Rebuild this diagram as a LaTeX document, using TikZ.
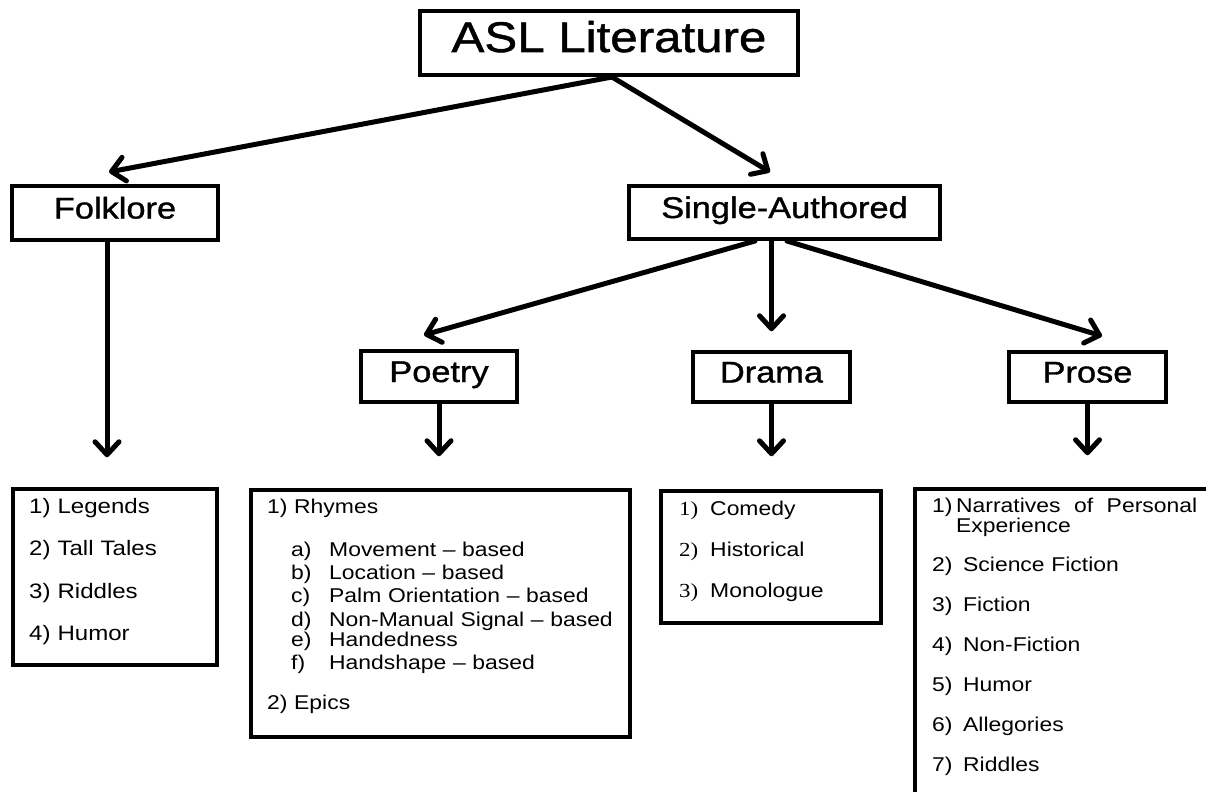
\documentclass[tikz,border=0pt]{standalone}
\usepackage{fontspec}
\setmainfont{Liberation Sans}[FakeStretch=1.15]
\newfontfamily\headfont{Liberation Sans}[FakeStretch=1.15, FakeBold=1.2]
\newfontfamily\numfont{Liberation Serif}[FakeStretch=1.15]
\usetikzlibrary{arrows.meta,positioning}

\tikzset{
  catbox/.style={draw, line width=4bp, inner sep=0pt,
    font=\headfont\fontsize{30}{36}\selectfont, text height=21bp, text depth=10bp},
  listbox/.style={draw, line width=4bp, inner sep=0pt},
  items/.style={anchor=north west, inner sep=0pt, align=left, text width=#1},
  link/.style={line width=5bp, line cap=round,
    -{Straight Barb[length=13bp,width=24bp,round]}},
}
\newcommand{\firstline}{\rule{0pt}{18bp}}

\begin{document}
\begin{tikzpicture}[x=1bp, y=-1bp]
  \useasboundingbox (0,0) rectangle (1206,792);
  \clip (0,0) rectangle (1206,792);

  % top and second level
  \node[catbox, minimum width=378bp, minimum height=64bp,
        font=\headfont\fontsize{43}{50}\selectfont, text height=30bp, text depth=12bp]
        (asl) at (609,43) {ASL Literature};
  \node[catbox, minimum width=206bp, minimum height=54bp] (folk) at (115,213) {Folklore};
  \node[catbox, minimum width=311bp, minimum height=53bp] (single) at (784.5,212.5) {Single-Authored};

  % genres
  \node[catbox, minimum width=156bp, minimum height=51bp] (poet) at (439,376.5) {Poetry};
  \node[catbox, minimum width=157bp, minimum height=50bp] (drama) at (771.5,377) {Drama};
  \node[catbox, minimum width=157bp, minimum height=50bp] (prose) at (1087.5,377) {Prose};

  % list frames
  \node[listbox, minimum width=204bp, minimum height=176bp] (folklist) at (115,577) {};
  \node[listbox, minimum width=379bp, minimum height=247bp] (poetlist) at (440.5,613.5) {};
  \node[listbox, minimum width=220bp, minimum height=132bp] (dramalist) at (771,557) {};
  \node[listbox, minimum width=400bp, minimum height=400bp] (proselist) at (1115,689) {};

  % list texts
  \node[items=170bp, font=\fontsize{21}{42.7}\selectfont] (folkitems) at (29,495)
    {\firstline 1) Legends\\2) Tall Tales\\3) Riddles\\4) Humor};
  \node[items=360bp, font=\fontsize{20}{23.5}\selectfont] (poetitems) at (267,495)
    {\firstline 1) Rhymes\\[19.5bp]
     \hspace*{24bp}\makebox[38bp][l]{a)}Movement -- based\\
     \hspace*{24bp}\makebox[38bp][l]{b)}Location -- based\\
     \hspace*{24bp}\makebox[38bp][l]{c)}Palm Orientation -- based\\
     \hspace*{24bp}\makebox[38bp][l]{d)}Non-Manual Signal -- based\\[-3.5bp]
     \hspace*{24bp}\makebox[38bp][l]{e)}Handedness\\
     \hspace*{24bp}\makebox[38bp][l]{f)}Handshape -- based\\[16.5bp]
     2) Epics};
  \node[items=190bp, font=\fontsize{20}{41.5}\selectfont] (dramaitems) at (679,497)
    {\firstline\makebox[31bp][l]{\numfont 1)}Comedy\\
     \makebox[31bp][l]{\numfont 2)}Historical\\
     \makebox[31bp][l]{\numfont 3)}Monologue};
  \node[items=300bp, font=\fontsize{20}{40}\selectfont] (proseitems) at (932,494)
    {\firstline\makebox[24bp][l]{1)}\makebox[241bp][s]{Narratives\hfill of\hfill Personal}\\[-20bp]
     \hspace*{24bp}Experience\\
     \makebox[31bp][l]{2)}Science Fiction\\
     \makebox[31bp][l]{3)}Fiction\\
     \makebox[31bp][l]{4)}Non-Fiction\\
     \makebox[31bp][l]{5)}Humor\\
     \makebox[31bp][l]{6)}Allegories\\
     \makebox[31bp][l]{7)}Riddles};

  % arrow ends
  \coordinate (folktip) at (109,172);
  \coordinate (singletip) at (770,172);
  \coordinate (poettip) at (424,335);
  \coordinate (prosetip) at (1102,336);

  \draw[link] ([xshift=3bp]asl.south) -- (folktip);
  \draw[link] ([xshift=3bp]asl.south) -- (singletip);
  \draw[link] ([xshift=-29.5bp]single.south) -- (poettip);
  \draw[link, shorten >=18.75bp] (single.south -| drama.north) -- (drama.north);
  \draw[link] ([xshift=2.5bp]single.south) -- (prosetip);

  \draw[link, shorten >=29.75bp] ([xshift=-8bp]folk.south) -- ([xshift=-8bp]folk.south |- folklist.north);
  \draw[link, shorten >=31.75bp] (poet.south) -- (poet.south |- poetlist.north);
  \draw[link, shorten >=32.75bp] (drama.south) -- (drama.south |- dramalist.north);
  \draw[link, shorten >=31.75bp] (prose.south) -- (prose.south |- proselist.north);
\end{tikzpicture}
\end{document}
